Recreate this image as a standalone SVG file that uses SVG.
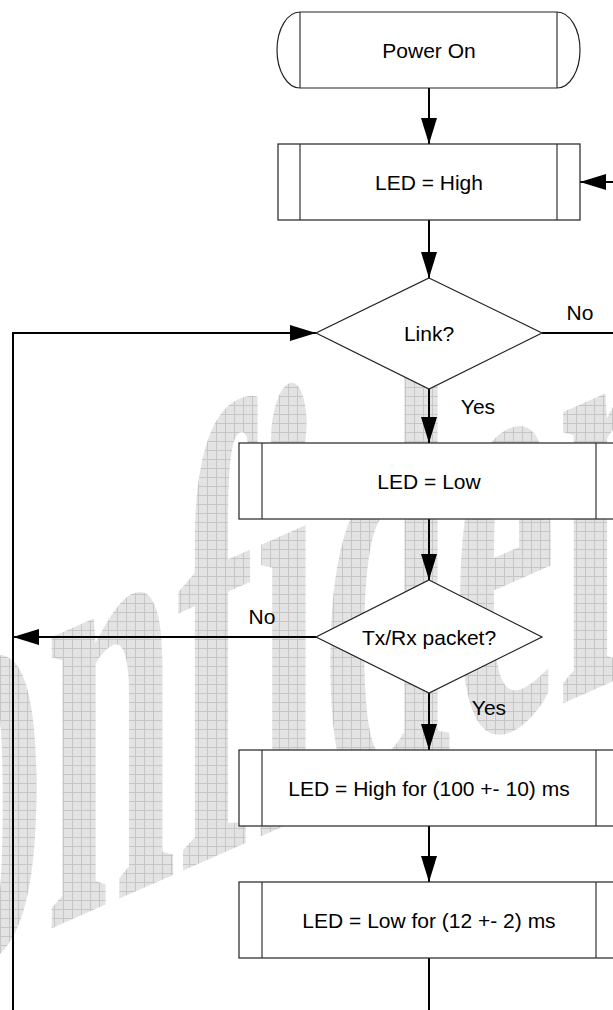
<svg xmlns="http://www.w3.org/2000/svg" width="613" height="1010" viewBox="0 0 613 1010">
<style>
.box{fill:#fff;stroke:#222;stroke-width:1.2}
.inner{fill:none;stroke:#333;stroke-width:1.2}
.conn{fill:none;stroke:#000;stroke-width:2}
.lbl{font-family:"Liberation Sans",Arial,sans-serif;font-size:21px;fill:#000;text-anchor:middle}
</style>
<defs>
<pattern id="grid" width="9" height="9" patternUnits="userSpaceOnUse">
<rect width="9" height="9" fill="#e3e3e3"/>
<path d="M0 0.5H9M0.5 0V9" stroke="#c6c6c6" stroke-width="1"/>
</pattern>
<clipPath id="wm">
<text x="0" y="0" transform="matrix(1,-0.44,0,2.69,-243,1058)" font-family="Liberation Serif,'Times New Roman',serif" font-weight="bold" font-size="236">Confidential</text>
</clipPath>
<marker id="arr" markerUnits="userSpaceOnUse" markerWidth="26" markerHeight="16" refX="26" refY="8" orient="auto">
<path d="M0,0 L26,8 L0,16 z" fill="#000"/>
</marker>
</defs>
<g id="watermark">
<rect x="0" y="0" width="613" height="1010" fill="url(#grid)" clip-path="url(#wm)"/>
</g>
<g id="connectors">
<line class="conn" x1="429" y1="88" x2="429" y2="144" marker-end="url(#arr)"/>
<line class="conn" x1="429" y1="220" x2="429" y2="278" marker-end="url(#arr)"/>
<line class="conn" x1="429" y1="389" x2="429" y2="443" marker-end="url(#arr)"/>
<line class="conn" x1="429" y1="519" x2="429" y2="580" marker-end="url(#arr)"/>
<line class="conn" x1="429" y1="693" x2="429" y2="750" marker-end="url(#arr)"/>
<line class="conn" x1="429" y1="826" x2="429" y2="882" marker-end="url(#arr)"/>
<line class="conn" x1="429" y1="958" x2="429" y2="1012"/>
<line class="conn" x1="542" y1="333" x2="615" y2="333"/>
<line class="conn" x1="615" y1="182" x2="580" y2="182" marker-end="url(#arr)"/>
<line class="conn" x1="316" y1="637" x2="13" y2="637" marker-end="url(#arr)"/>
<polyline class="conn" points="13,1012 13,333 316,333" marker-end="url(#arr)"/>
<text class="lbl" x="580" y="320">No</text>
<text class="lbl" x="478" y="414">Yes</text>
<text class="lbl" x="262" y="624">No</text>
<text class="lbl" x="489" y="715">Yes</text>
</g>
<g id="power-on">
<path class="box" d="M300,12 H557 A23,38 0 0 1 557,88 H300 A23,38 0 0 1 300,12 Z"/>
<path class="inner" d="M300,12V88M557,12V88"/>
<text class="lbl" x="429" y="57.5">Power On</text>
</g>
<g id="led-high">
<rect class="box" x="278" y="144" width="302" height="76"/>
<path class="inner" d="M300,144V220M557,144V220"/>
<text class="lbl" x="429" y="189.5">LED = High</text>
</g>
<g id="link">
<polygon class="box" points="429,278 542,333 429,389 316,333"/>
<text class="lbl" x="429" y="340.5">Link?</text>
</g>
<g id="led-low">
<rect class="box" x="239" y="443" width="380" height="76"/>
<path class="inner" d="M262,443V519M596,443V519"/>
<text class="lbl" x="429" y="488.5">LED = Low</text>
</g>
<g id="txrx">
<polygon class="box" points="429,580 542,637 429,693 316,637"/>
<text class="lbl" x="429" y="644.5">Tx/Rx packet?</text>
</g>
<g id="led-high-for">
<rect class="box" x="239" y="750" width="380" height="76"/>
<path class="inner" d="M262,750V826M596,750V826"/>
<text class="lbl" x="429" y="795.5">LED = High for (100 +- 10) ms</text>
</g>
<g id="led-low-for">
<rect class="box" x="239" y="882" width="380" height="76"/>
<path class="inner" d="M262,882V958M596,882V958"/>
<text class="lbl" x="429" y="927.5">LED = Low for (12 +- 2) ms</text>
</g>
</svg>
